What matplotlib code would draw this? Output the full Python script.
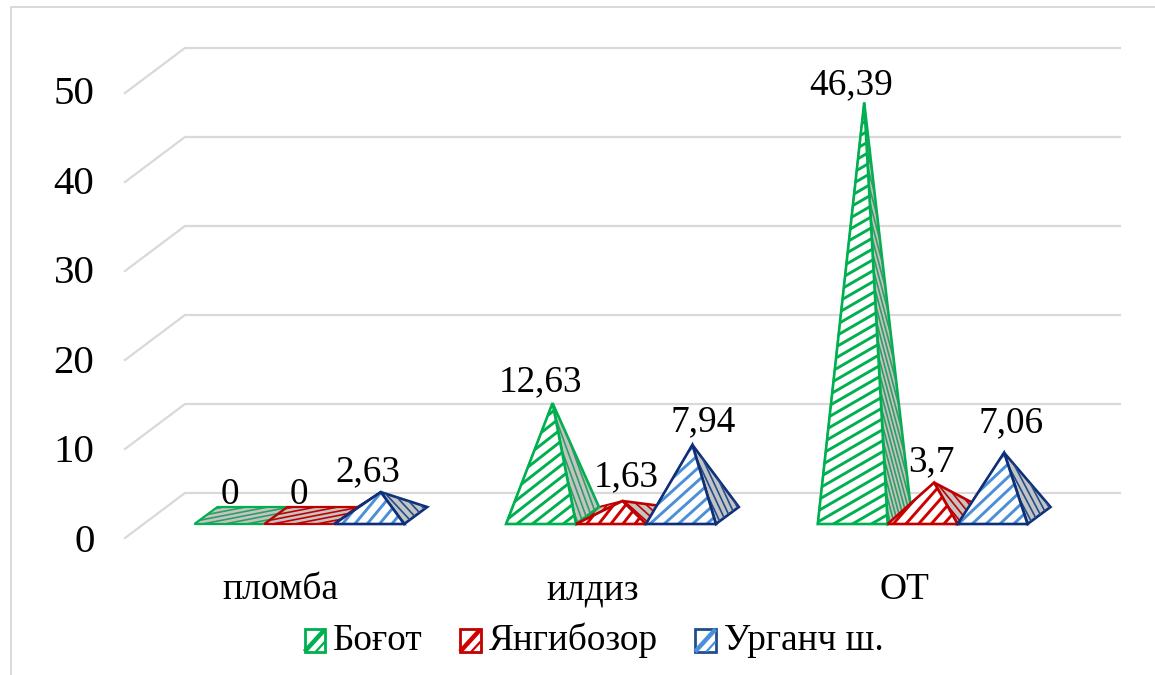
import numpy as np
import matplotlib
matplotlib.use("Agg")
import matplotlib.pyplot as plt
from matplotlib.patches import Polygon, Patch, Rectangle
from matplotlib.lines import Line2D
from matplotlib.legend_handler import HandlerBase
from matplotlib.transforms import IdentityTransform, Affine2D

categories = ["пломба", "илдиз", "ОТ"]
series_names = ["Боғот", "Янгибозор", "Урганч ш."]
bogot = [0, 12.63, 46.39]
yangibozor = [0, 1.63, 3.7]
urganch = [2.63, 7.94, 7.06]
value_labels = [["0", "12,63", "46,39"], ["0", "1,63", "3,7"], ["2,63", "7,94", "7,06"]]
y_ticks = [0, 10, 20, 30, 40, 50]
# label nudges in pixels (right, up) per series and category
label_nudge = [[(0, -5), (-12, 4), (-13, 0)],
               [(0, -5), (4, 7), (-3, 3)],
               [(-13, 3), (11, 6), (7, 12)]]

W, H, DPI = 1155, 675, 100
plt.rcParams["font.family"] = ["Liberation Serif", "DejaVu Serif"]
fig = plt.figure(figsize=(W / DPI, H / DPI), dpi=DPI)
ax = fig.add_axes([125 / W, (H - 538) / H, 935 / W, 445 / H])
ax.set_xlim(-0.5, 2.5)
ax.set_ylim(0, 50)
for s in ax.spines.values():
    s.set_visible(False)
ax.patch.set_alpha(0)

PX = 312.0            # pixels per category
PY = 8.9              # pixels per value unit
wall_dx, wall_dy = 60 / PX, 45 / PY
GRID = "#D9D9D9"
for t in y_ticks:
    ax.plot([-0.5, -0.5 + wall_dx, 2.5 + wall_dx], [t, t + wall_dy, t + wall_dy],
            color=GRID, lw=1.6, clip_on=False, zorder=1, solid_joinstyle="miter")

ax.set_yticks(y_ticks)
ax.set_yticklabels([str(t) for t in y_ticks], fontsize=29.5)
ax.set_xticks(range(3))
ax.set_xticklabels(categories, fontsize=27)
ax.tick_params(axis="y", length=0, pad=22)
ax.tick_params(axis="x", length=0, pad=25)
for t, lab in zip(y_ticks, ax.get_yticklabels()):
    lab.set_transform(lab.get_transform() + Affine2D().translate(0, t * 0.06))

bar_w = 70 / PX
group_shift = 18.5 / PX
base_v = 14 / PY
depth_dx, depth_dy = 23 / PX, 17 / PY

styles = [
    dict(edge="#00B050", front="#00B050", side="#2E9E62"),
    dict(edge="#C00000", front="#D00000", side="#C00000"),
    dict(edge="#0F2F78", front="#4A90D9", side="#1F4E8C"),
]
GREY = "#C4C4C4"


def stripes(xy, angle, gap, color, lw, facecolor, z):
    """Fill a polygon (data coords) and draw clipped diagonal stripes on it."""
    poly = Polygon(xy, closed=True, facecolor=facecolor, edgecolor="none", clip_on=False, zorder=z)
    ax.add_patch(poly)
    px = ax.transData.transform(np.asarray(xy))
    c = px.mean(axis=0)
    r = np.hypot(*(px - c).T).max() + gap
    a = np.radians(angle)
    d = np.array([np.cos(a), np.sin(a)])
    n = np.array([-d[1], d[0]])
    for k in np.arange(-r, r + gap, gap):
        p0, p1 = c + n * k - d * r, c + n * k + d * r
        ln, = ax.plot([p0[0], p1[0]], [p0[1], p1[1]], color=color, lw=lw,
                      transform=IdentityTransform(), zorder=z + 0.1)
        ln.set_clip_path(poly)
    return poly


def outline(xy, color, z, lw=1.9):
    ax.add_patch(Polygon(xy, closed=True, fill=False, edgecolor=color, lw=lw,
                         clip_on=False, zorder=z, joinstyle="miter"))


all_vals = [bogot, yangibozor, urganch]
z = 3.0
for si, vals in enumerate(all_vals):
    st = styles[si]
    for ci, v in enumerate(vals):
        x0 = ci + group_shift + (si - 1.5) * bar_w
        x1 = x0 + bar_w
        fl, fr = (x0, base_v), (x1, base_v)
        bl, br = (x0 + depth_dx, base_v + depth_dy), (x1 + depth_dx, base_v + depth_dy)
        apex = ((x0 + x1 + depth_dx) / 2, base_v + depth_dy / 2 + v)
        h = v * PY
        if v == 0:
            q = [fl, fr, br, bl]
            stripes(q, 11, 4.2, st["side"], 1.2, GREY, z + ci)
            outline(q, st["edge"], z + ci + 0.5, 1.6)
        else:
            fa = float(np.interp(h, [15, 25, 70, 112, 413], [52, 50, 42, 38, 30]))
            sa = -float(np.interp(h, [15, 25, 70, 112, 413], [42, 48, 65, 70, 75]))
            sg = float(np.interp(h, [25, 112, 413], [6.0, 5.0, 3.5]))
            stripes([bl, br, apex], fa, 10, st["front"], 1.8, "white", z + ci)
            stripes([fl, bl, apex], fa, 6, st["side"], 1.3, GREY, z + ci + 0.1)
            stripes([fr, br, apex], sa, sg, st["side"], 1.2, GREY, z + ci + 0.2)
            stripes([fl, fr, apex], fa, 9.5, st["front"], 2.1, "white", z + ci + 0.3)
            outline([fl, bl, apex], st["edge"], z + ci + 0.15, 1.4)
            outline([fr, br, apex], st["edge"], z + ci + 0.25)
            outline([fl, fr, apex], st["edge"], z + ci + 0.5)
        nx, ny = label_nudge[si][ci]
        lx = (x0 + bar_w / 2 if v == 0 else apex[0]) + nx / PX
        ly = (base_v + depth_dy if v == 0 else apex[1]) + ny / PY
        ax.text(lx, ly, value_labels[si][ci], ha="center", va="bottom", fontsize=26.8,
                zorder=20, clip_on=False, linespacing=1)
    z += 0.01

# chart frame
fig.add_artist(plt.Line2D([11 / W, 11 / W, 1], [0, 1 - 7 / H, 1 - 7 / H], color=GRID, lw=1.4))


class SwatchHandler(HandlerBase):
    """Legend key: a square outline crossed by a diagonal stripe."""
    def __init__(self, stripe):
        super().__init__()
        self.stripe = stripe

    def create_artists(self, legend, orig, x, y, w, h, fs, trans):
        rect = Rectangle((x, y), w, h, facecolor="white", edgecolor=orig.get_edgecolor(),
                         lw=2.0, transform=trans)
        band = Line2D([x, x + w], [y, y + h], color=self.stripe, lw=3.2,
                      solid_capstyle="butt", transform=trans)
        band2 = Line2D([x + 0.55 * w, x + w], [y, y + 0.45 * h], color=self.stripe, lw=1.6,
                       solid_capstyle="butt", transform=trans)
        return [rect, band, band2]


handles = [Patch(facecolor="white", edgecolor=st["edge"] if i != 2 else "#1F4E8C", label=n)
           for i, (st, n) in enumerate(zip(styles, series_names))]
handler_map = {h: SwatchHandler(st["front"]) for h, st in zip(handles, styles)}
fig.legend(handles=handles, handler_map=handler_map, loc="center", bbox_to_anchor=(594 / W, 1 - 640 / H),
           ncol=3, frameon=False, fontsize=26.8, handlelength=0.55, handleheight=0.55,
           handletextpad=0.22, columnspacing=1.0, borderpad=0, borderaxespad=0)

fig.savefig("out.png", dpi=DPI)
